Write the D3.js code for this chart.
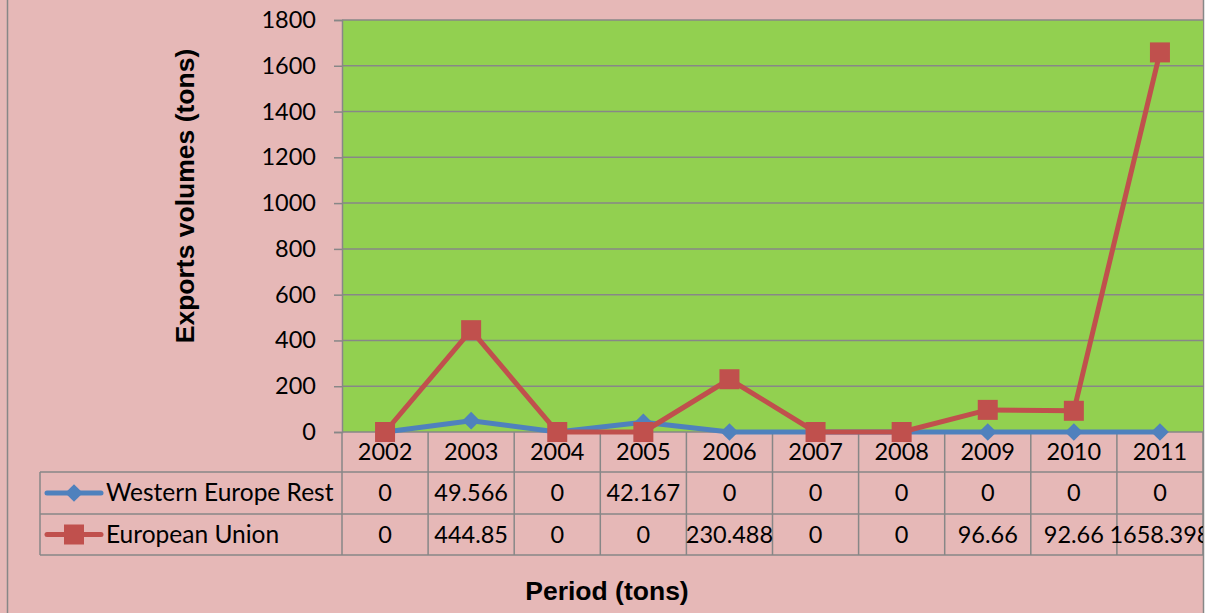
<!DOCTYPE html>
<html>
<head>
<meta charset="utf-8">
<script src="https://cdn.jsdelivr.net/npm/d3@7"></script>
<style>
  body { margin: 0; background: #ffffff; }
  .chart svg { display: block; }
</style>
</head>
<body>
<div class="chart"></div>
<script>
// data
const years = ["2002", "2003", "2004", "2005", "2006", "2007", "2008", "2009", "2010", "2011"];
const westernEuropeRest = [0, 49.566, 0, 42.167, 0, 0, 0, 0, 0, 0];
const europeanUnion = [0, 444.85, 0, 0, 230.488, 0, 0, 96.66, 92.66, 1658.398];
const yTicks = [0, 200, 400, 600, 800, 1000, 1200, 1400, 1600, 1800];
const seriesNames = ["Western Europe Rest", "European Union"];

const W = 1209, H = 613;
const plot = {left: 342, right: 1203, top: 20, bottom: 432};
const rowH = [40, 42, 41];
const tableLeft = 40;
const txtFont = "Lato, 'Open Sans', sans-serif";
const grey = "#878787";

const svg = d3.select(".chart").append("svg")
    .attr("width", W)
    .attr("height", H);

// chart background
svg.append("rect")
    .attr("x", 0).attr("y", 0)
    .attr("width", 1204).attr("height", H)
    .attr("fill", "#e6b8b7");
svg.append("line")
    .attr("x1", 7.5).attr("x2", 7.5).attr("y1", 0).attr("y2", H)
    .attr("stroke", grey).attr("stroke-width", 1.5);
svg.append("line")
    .attr("x1", 1203.5).attr("x2", 1203.5).attr("y1", 0).attr("y2", H)
    .attr("stroke", grey).attr("stroke-width", 1.5);

const xScale = d3.scaleBand()
    .domain(years)
    .range([plot.left, plot.right]);

const yScale = d3.scaleLinear()
    .domain([0, 1800])
    .range([plot.bottom, plot.top]);

// plot area
svg.append("rect")
    .attr("x", plot.left).attr("y", plot.top)
    .attr("width", plot.right - plot.left)
    .attr("height", plot.bottom - plot.top)
    .attr("fill", "#92d050");

// gridlines + y axis
const yAxis = d3.axisLeft(yScale)
    .tickValues(yTicks)
    .tickSize(8)
    .tickPadding(18)
    .tickFormat(d3.format("d"));

const gy = svg.append("g")
    .attr("transform", "translate(" + plot.left + ",0)")
    .call(yAxis);
gy.select(".domain").attr("stroke", grey).attr("stroke-width", 1.5);
gy.selectAll(".tick line").attr("stroke", grey).attr("stroke-width", 1.5);
gy.selectAll(".tick text")
    .attr("fill", "#000")
    .style("font-family", txtFont)
    .style("font-size", "23.5px");

svg.append("g").selectAll("line")
    .data(yTicks.filter(d => d > 0))
    .enter().append("line")
    .attr("x1", plot.left).attr("x2", plot.right)
    .attr("y1", d => yScale(d)).attr("y2", d => yScale(d))
    .attr("stroke", grey).attr("stroke-width", 1.5);

// data table
const tableTop = plot.bottom;
const rowY = [tableTop, tableTop + rowH[0], tableTop + rowH[0] + rowH[1], tableTop + rowH[0] + rowH[1] + rowH[2]];
const tbl = svg.append("g");

// horizontal lines
tbl.append("line")
    .attr("x1", plot.left).attr("x2", plot.right)
    .attr("y1", rowY[0]).attr("y2", rowY[0])
    .attr("stroke", grey).attr("stroke-width", 1.5);
[1, 2, 3].forEach(i => {
    tbl.append("line")
        .attr("x1", tableLeft).attr("x2", plot.right)
        .attr("y1", rowY[i]).attr("y2", rowY[i])
        .attr("stroke", grey).attr("stroke-width", 1.5);
});
// vertical lines
const colEdges = years.map(y => xScale(y)).concat([plot.right]);
tbl.selectAll(".vline")
    .data(colEdges)
    .enter().append("line")
    .attr("class", "vline")
    .attr("x1", d => d).attr("x2", d => d)
    .attr("y1", rowY[0]).attr("y2", rowY[3])
    .attr("stroke", grey).attr("stroke-width", 1.5);
tbl.append("line")
    .attr("x1", tableLeft).attr("x2", tableLeft)
    .attr("y1", rowY[1]).attr("y2", rowY[3])
    .attr("stroke", grey).attr("stroke-width", 1.5);

svg.append("clipPath").attr("id", "tclip")
    .append("rect").attr("x", 0).attr("y", 0).attr("width", 1203).attr("height", H);

// year headers
tbl.selectAll(".yr")
    .data(years)
    .enter().append("text")
    .attr("x", d => xScale(d) + xScale.bandwidth() / 2)
    .attr("y", rowY[0] + rowH[0] / 2 + 8)
    .attr("text-anchor", "middle")
    .style("font-family", txtFont)
    .style("font-size", "23.5px")
    .text(d => d);

const seriesData = [westernEuropeRest, europeanUnion];
seriesData.forEach((vals, si) => {
    tbl.append("g").attr("clip-path", "url(#tclip)")
        .selectAll("text")
        .data(vals)
        .enter().append("text")
        .attr("x", (d, i) => xScale(years[i]) + xScale.bandwidth() / 2)
        .attr("y", rowY[si + 1] + rowH[si + 1] / 2 + 8)
        .attr("text-anchor", "middle")
        .style("font-family", txtFont)
        .style("font-size", "23.5px")
        .text(d => String(d));
});

// series styles
const colors = ["#4f81bd", "#c0504d"];
const diamond = d3.symbol().type(d3.symbolDiamond2).size(200);

function drawMarker(g, si, x, y) {
    if (si === 0) {
        g.append("path")
            .attr("d", diamond())
            .attr("transform", "translate(" + x + "," + y + ")")
            .attr("fill", colors[0]);
    } else {
        g.append("rect")
            .attr("x", x - 10).attr("y", y - 10)
            .attr("width", 20).attr("height", 20)
            .attr("fill", colors[1]);
    }
}

// legend keys in the table
seriesNames.forEach((name, si) => {
    const cy = rowY[si + 1] + rowH[si + 1] / 2;
    const g = tbl.append("g");
    g.append("line")
        .attr("x1", 47).attr("x2", 101)
        .attr("y1", cy).attr("y2", cy)
        .attr("stroke", colors[si]).attr("stroke-width", 5)
        .attr("stroke-linecap", "round");
    drawMarker(g, si, 74, cy);
    g.append("text")
        .attr("x", 106)
        .attr("y", cy + 8)
        .style("font-family", txtFont)
        .style("font-size", "24.5px")
        .text(name);
});

// lines
const line = d3.line()
    .x((d, i) => xScale(years[i]) + xScale.bandwidth() / 2)
    .y(d => yScale(d));

seriesData.forEach((vals, si) => {
    const g = svg.append("g");
    g.append("path")
        .datum(vals)
        .attr("d", line)
        .attr("fill", "none")
        .attr("stroke", colors[si])
        .attr("stroke-width", 5)
        .attr("stroke-linejoin", "round");
    vals.forEach((v, i) => {
        drawMarker(g, si, xScale(years[i]) + xScale.bandwidth() / 2, yScale(v));
    });
});

// axis titles
svg.append("text")
    .attr("transform", "translate(194,196) rotate(-90)")
    .attr("text-anchor", "middle")
    .style("font-family", "'Liberation Sans', Arial, sans-serif")
    .style("font-weight", "bold")
    .style("font-size", "26.5px")
    .text("Exports volumes (tons)");

svg.append("text")
    .attr("x", 607)
    .attr("y", 600)
    .attr("text-anchor", "middle")
    .style("font-family", "'Liberation Sans', Arial, sans-serif")
    .style("font-weight", "bold")
    .style("font-size", "26.5px")
    .text("Period (tons)");
</script>
</body>
</html>
